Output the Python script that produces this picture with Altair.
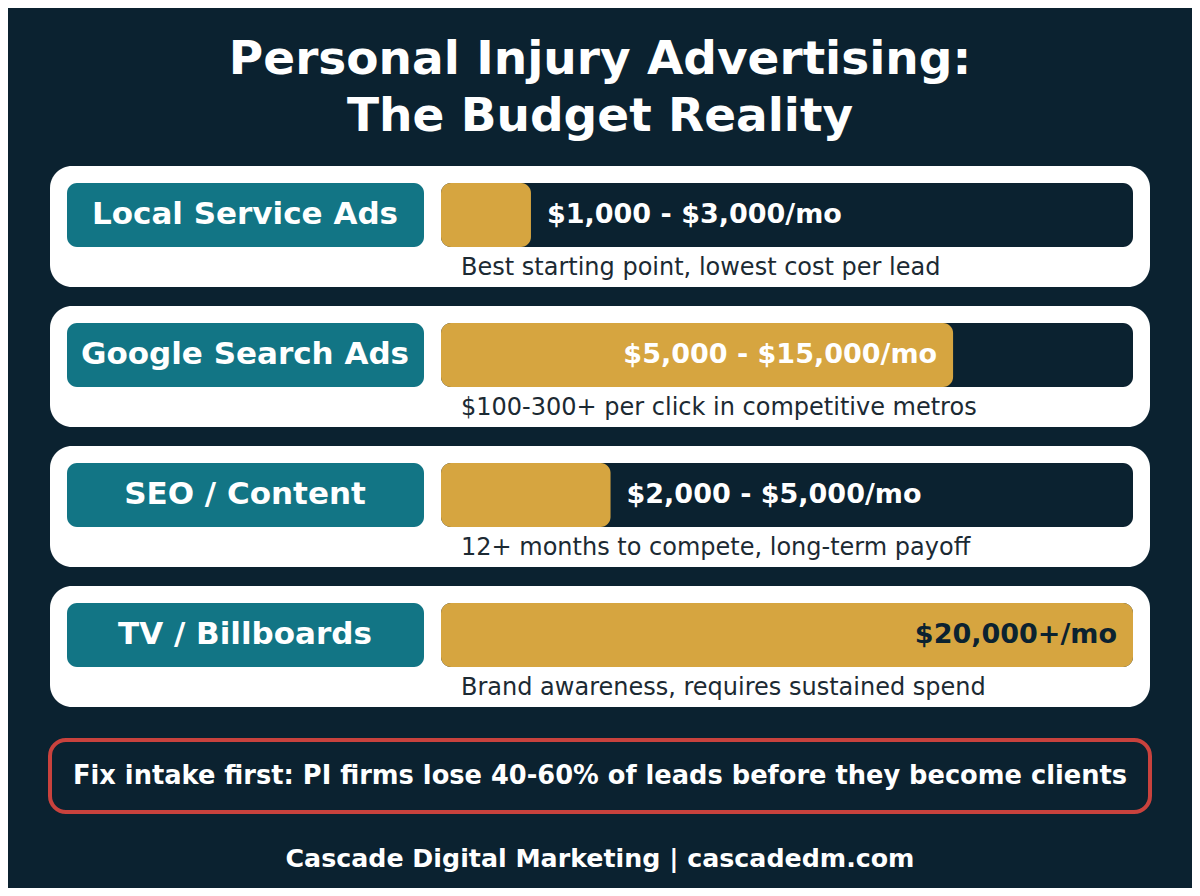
"""
Personal injury advertising budgets, drawn as an infographic-style bar chart.
"""

import altair as alt
import pandas as pd

# --- data -----------------------------------------------------------------
channels = ["Local Service Ads", "Google Search Ads", "SEO / Content", "TV / Billboards"]
ranges = ["$1,000 - $3,000/mo", "$5,000 - $15,000/mo", "$2,000 - $5,000/mo", "$20,000+/mo"]
spend = [2600, 14800, 4900, 20000]  # bar length
notes = [
    "Best starting point, lowest cost per lead",
    "$100-300+ per click in competitive metros",
    "12+ months to compete, long-term payoff",
    "Brand awareness, requires sustained spend",
]
title_lines = ["Personal Injury Advertising:", "The Budget Reality"]
callout = "Fix intake first: PI firms lose 40-60% of leads before they become clients"
footer = "Cascade Digital Marketing | cascadedm.com"

# --- style ----------------------------------------------------------------
BG = "#0b2230"
TEAL = "#127585"
GOLD = "#d6a540"
RED = "#c9423d"
INK = "#1c2a33"
FONT = "DejaVu Sans"

W, H = 1184, 880
px = alt.Scale(domain=[8, 8 + W], range=[0, W])
py = alt.Scale(domain=[8, 8 + H], range=[0, H])
money = alt.Scale(domain=[0, 20000], range=[433, 1125])

rows = pd.DataFrame({
    "channel": channels,
    "range": ranges,
    "spend": spend,
    "note": notes,
})
rows["top"] = [166 + 140 * i for i in range(len(rows))]
rows["bottom"] = rows["top"] + 121
rows["bar_top"] = rows["top"] + 17
rows["bar_bottom"] = rows["top"] + 81
rows["mid"] = rows["top"] + 49
rows["note_y"] = rows["top"] + 102
rows["zero"] = 0
rows["card_l"], rows["card_r"] = 50, 1150
rows["tag_l"], rows["tag_r"], rows["tag_c"] = 67, 424, 245
rows["track_l"], rows["track_r"] = 441, 1133
rows["note_x"] = 461

base = alt.Chart(rows)


def box(left, right, top, bottom, **mark):
    return base.mark_rect(**mark).encode(
        x=alt.X(f"{left}:Q", scale=px, axis=None),
        x2=f"{right}:Q",
        y=alt.Y(f"{top}:Q", scale=py, axis=None),
        y2=f"{bottom}:Q",
    )


cards = box("card_l", "card_r", "top", "bottom", fill="white", cornerRadius=22)
tags = box("tag_l", "tag_r", "bar_top", "bar_bottom", fill=TEAL, cornerRadius=10)
tracks = box("track_l", "track_r", "bar_top", "bar_bottom", fill=BG, cornerRadius=10)

bars = base.mark_rect(fill=GOLD, cornerRadius=10).encode(
    x=alt.X("zero:Q", scale=money, axis=None),
    x2="spend:Q",
    y=alt.Y("bar_top:Q", scale=py, axis=None),
    y2="bar_bottom:Q",
)

tag_text = base.mark_text(
    font=FONT, fontSize=31, fontWeight="bold", color="white", baseline="middle"
).encode(
    x=alt.X("tag_c:Q", scale=px, axis=None),
    y=alt.Y("mid:Q", scale=py, axis=None),
    text="channel:N",
)

range_out = base.mark_text(
    font=FONT, fontSize=27, fontWeight="bold", color="white",
    align="left", baseline="middle", dx=16,
).encode(
    x=alt.X("spend:Q", scale=money, axis=None),
    y=alt.Y("mid:Q", scale=py, axis=None),
    text="range:N",
).transform_filter(alt.datum.spend < 10000)

range_in = base.mark_text(
    font=FONT, fontSize=27, fontWeight="bold",
    align="right", baseline="middle", dx=-16,
).encode(
    x=alt.X("spend:Q", scale=money, axis=None),
    y=alt.Y("mid:Q", scale=py, axis=None),
    text="range:N",
    color=alt.condition(alt.datum.spend >= 20000, alt.value(BG), alt.value("white")),
).transform_filter(alt.datum.spend >= 10000)

note_text = base.mark_text(
    font=FONT, fontSize=24, color=INK, align="left", baseline="middle"
).encode(
    x=alt.X("note_x:Q", scale=px, axis=None),
    y=alt.Y("note_y:Q", scale=py, axis=None),
    text="note:N",
)

titles = alt.Chart(pd.DataFrame({
    "line": title_lines, "y": [60, 117], "x": [600, 600],
})).mark_text(
    font=FONT, fontSize=47, fontWeight="bold", color="white", baseline="middle"
).encode(
    x=alt.X("x:Q", scale=px, axis=None),
    y=alt.Y("y:Q", scale=py, axis=None),
    text="line:N",
)

bottom = pd.DataFrame({
    "text": [callout, footer],
    "y": [776, 859],
    "size": [25.7, 25.3],
    "x": [600, 600],
    "l": [50, 50], "r": [1150, 1150], "t": [740, 740], "b": [812, 812],
})

callout_box = alt.Chart(bottom.iloc[:1]).mark_rect(
    fill=BG, stroke=RED, strokeWidth=4, cornerRadius=16
).encode(
    x=alt.X("l:Q", scale=px, axis=None),
    x2="r:Q",
    y=alt.Y("t:Q", scale=py, axis=None),
    y2="b:Q",
)

bottom_text = alt.Chart(bottom).mark_text(
    font=FONT, fontWeight="bold", color="white", baseline="middle"
).encode(
    x=alt.X("x:Q", scale=px, axis=None),
    y=alt.Y("y:Q", scale=py, axis=None),
    text="text:N",
    size=alt.Size("size:Q", scale=None, legend=None),
)

chart = alt.layer(
    titles, cards, tags, tracks, bars, tag_text, range_out, range_in,
    note_text, callout_box, bottom_text,
).resolve_scale(x="independent").properties(
    width=W, height=H, padding=0, background=BG,
    autosize=alt.AutoSizeParams(type="none"),
).configure_view(stroke=None)

chart.save("out.html", embed_options={"renderer": "svg", "actions": False})
